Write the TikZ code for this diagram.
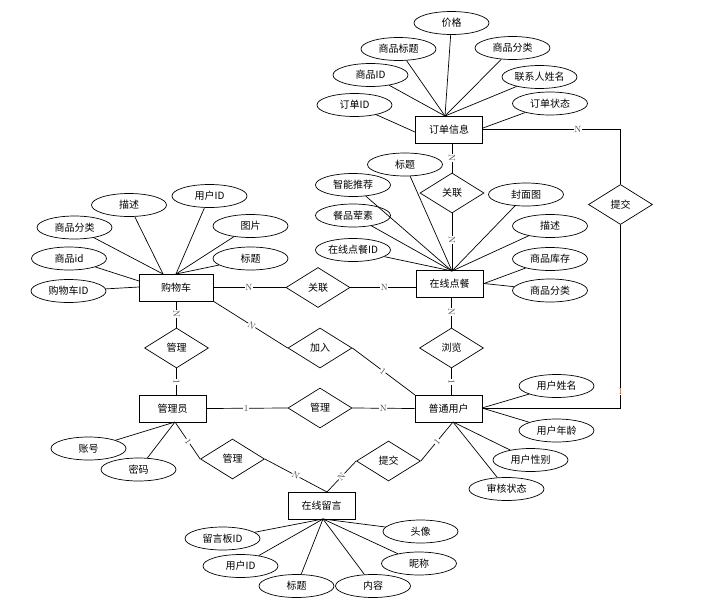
\documentclass[tikz,border=0pt]{standalone}
\usepackage{fontspec}
\newfontfamily\cjk{Noto Sans CJK SC}
\usetikzlibrary{shapes.geometric}
\definecolor{labgray}{RGB}{70,70,70}
\definecolor{labbrown}{RGB}{170,85,20}
\tikzset{
  ent/.style={draw, rectangle, line width=1pt, minimum width=67pt, minimum height=27pt, inner sep=0pt, font=\cjk\fontsize{10}{12}\selectfont},
  rel/.style={draw, diamond, line width=0.7pt, aspect=1.6, inner sep=0pt, minimum width=64pt, minimum height=40pt, font=\cjk\fontsize{10}{12}\selectfont},
  attr/.style={draw, ellipse, line width=0.7pt, minimum width=75pt, minimum height=23pt, inner sep=0pt, font=\cjk\fontsize{10}{12}\selectfont},
  conn/.style={line width=0.7pt},
  lab/.style={fill=white, inner sep=0.6pt, text=labgray, font=\fontsize{9}{9}\selectfont},
}
\begin{document}
\begin{tikzpicture}[x=1pt,y=-1pt]
\useasboundingbox (0,0) rectangle (702,605);

% entities
\node[ent] (ord) at (449,129.5) {订单信息};
\node[ent, minimum width=74pt] (cart) at (176,287.5) {购物车};
\node[ent] (din) at (449.5,284) {在线点餐};
\node[ent] (adm) at (172.5,408.5) {管理员};
\node[ent] (user) at (448.5,408.5) {普通用户};
\node[ent] (msg) at (321.5,505.5) {在线留言};

% relationships
\node[rel] (rel1) at (452,193) {关联};
\node[rel] (rel2) at (318,287.5) {关联};
\node[rel] (m1) at (176.5,348) {管理};
\node[rel] (join) at (320,348) {加入};
\node[rel] (browse) at (451.5,348) {浏览};
\node[rel] (m2) at (320,408) {管理};
\node[rel] (m3) at (232.5,459) {管理};
\node[rel] (sub1) at (388.5,461) {提交};
\node[rel] (sub2) at (620.5,204.5) {提交};

% convergence coordinates
\coordinate (ordT) at (445,116);
\coordinate (ordL) at (415,132);
\coordinate (ordR) at (483,128);
\coordinate (cartT1) at (163,274);
\coordinate (cartT2) at (176,274);
\coordinate (cartL1) at (139,281);
\coordinate (cartL2) at (139,287);
\coordinate (dinT) at (452,271);
\coordinate (dinR) at (484,283.5);
\coordinate (userR) at (482,408);
\coordinate (userB) at (453,422);
\coordinate (admB) at (175,422);
\coordinate (msgB) at (323,519);
\coordinate (msgT) at (327,492);
\coordinate (cartSE) at (213,301);
\coordinate (userNW) at (415,395);

% attributes of 订单信息
\node[attr] (a1) at (451.5,23) {价格};
\node[attr] (a2) at (398.5,49) {商品标题};
\node[attr] (a3) at (512.5,48) {商品分类};
\node[attr] (a4) at (370.5,75) {商品ID};
\node[attr] (a5) at (539.5,77) {联系人姓名};
\node[attr] (a6) at (354.5,105) {订单ID};
\node[attr] (a7) at (550,103.5) {订单状态};
\foreach \a in {a1,a2,a3,a4,a5} \draw[conn] (\a) -- (ordT);
\draw[conn] (a6) -- (ordL);
\draw[conn] (a7) -- (ordR);

% attributes of 购物车
\node[attr] (b1) at (129,205) {描述};
\node[attr] (b2) at (209.5,196) {用户ID};
\node[attr] (b3) at (74.5,227.5) {商品分类};
\node[attr] (b4) at (250.5,226) {图片};
\node[attr] (b5) at (69,258.5) {商品id};
\node[attr] (b6) at (250.5,258.5) {标题};
\node[attr] (b7) at (68.5,291) {购物车ID};
\draw[conn] (b1) -- (cartT1);
\draw[conn] (b3) -- (cartT1);
\foreach \a in {b2,b4,b6} \draw[conn] (\a) -- (cartT2);
\draw[conn] (b5) -- (cartL1);
\draw[conn] (b7) -- (cartL2);

% attributes of 在线点餐
\node[attr] (c1) at (405,164.5) {标题};
\node[attr] (c2) at (353,185) {智能推荐};
\node[attr] (c3) at (526,194.5) {封面图};
\node[attr] (c4) at (353,215.5) {餐品荤素};
\node[attr] (c5) at (550,226) {描述};
\node[attr] (c6) at (353,250) {在线点餐ID};
\node[attr] (c7) at (550,259) {商品库存};
\node[attr] (c8) at (550,290.5) {商品分类};
\foreach \a in {c1,c2,c3,c4,c5,c6} \draw[conn] (\a) -- (dinT);
\draw[conn] (c7) -- (dinR);
\draw[conn] (c8) -- (dinR);

% attributes of 普通用户
\node[attr] (d1) at (556.5,386) {用户姓名};
\node[attr] (d2) at (556.5,430.5) {用户年龄};
\node[attr] (d3) at (530.5,460) {用户性别};
\node[attr] (d4) at (506.5,489) {审核状态};
\draw[conn] (d1) -- (userR);
\draw[conn] (d2) -- (userR);
\draw[conn] (d3) -- (userB);
\draw[conn] (d4) -- (userB);

% attributes of 管理员
\node[attr] (e1) at (88.5,448.5) {账号};
\node[attr] (e2) at (138.5,469.5) {密码};
\draw[conn] (e1) -- (admB);
\draw[conn] (e2) -- (admB);

% attributes of 在线留言
\node[attr] (f1) at (222.5,538.5) {留言板ID};
\node[attr] (f2) at (420.5,531.5) {头像};
\node[attr] (f3) at (240.5,566) {用户ID};
\node[attr] (f4) at (419,563.5) {昵称};
\node[attr] (f5) at (296.5,586) {标题};
\node[attr] (f6) at (373,586) {内容};
\foreach \a in {f1,f2,f3,f4,f5,f6} \draw[conn] (\a) -- (msgB);

% relationship connectors
\draw[conn] (m1.north |- cart.south) -- node[lab, pos=0.48, sloped]{N} (m1.north);
\draw[conn] (m1.south) -- node[lab, pos=0.52, sloped]{1} (m1.south |- adm.north);
\draw[conn] (cart.east) -- node[lab, pos=0.49]{N} (rel2.west);
\draw[conn] (rel2.east) -- node[lab, pos=0.52]{N} (rel2.east -| din.west);
\draw[conn] (cartSE) -- node[lab, pos=0.52, sloped]{N} (join.west);
\draw[conn] (join.east) -- node[lab, pos=0.49, sloped]{1} (userNW);
\draw[conn] (browse.north |- din.south) -- node[lab, pos=0.48, sloped]{N} (browse.north);
\draw[conn] (browse.south) -- node[lab, pos=0.52, sloped]{1} (browse.south |- user.north);
\draw[conn] (rel1.north |- ord.south) -- node[lab, pos=0.5, sloped]{N} (rel1.north);
\draw[conn] (rel1.south) -- node[lab, pos=0.47, sloped]{N} (rel1.south |- din.north);
\draw[conn] (adm.east) -- node[lab, pos=0.49]{1} (m2.west);
\draw[conn] (m2.east) -- node[lab, pos=0.5]{N} (user.west);
\draw[conn] (admB) -- node[lab, pos=0.52, sloped]{1} (m3.west);
\draw[conn] (m3.east) -- node[lab, pos=0.5, sloped]{N} (msgT);
\draw[conn] (userB) -- node[lab, pos=0.5, sloped]{1} (sub1.east);
\draw[conn] (sub1.west) -- node[lab, pos=0.5, sloped]{N} (msgT);
\draw[conn] (ord.east) -- node[lab, pos=0.69]{N} (sub2.north |- ord.east) -- (sub2.north);
\draw[conn] (sub2.south) -- node[lab, pos=0.91, text=labbrown]{1} (sub2.south |- userR) -- (userR);
\end{tikzpicture}
\end{document}
